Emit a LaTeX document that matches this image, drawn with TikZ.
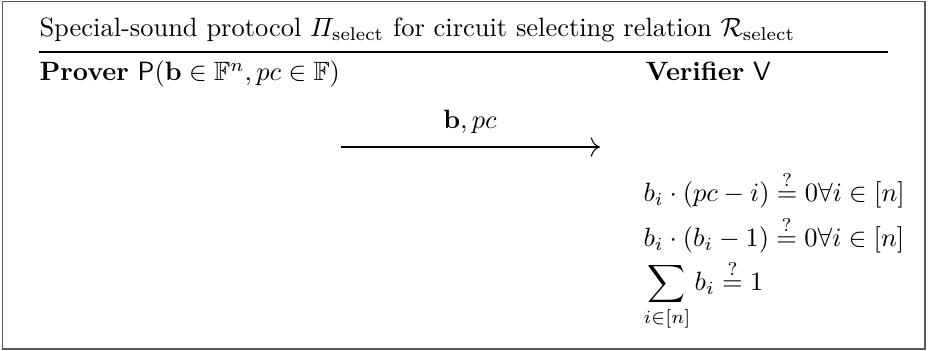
\documentclass[tikz,border=0pt]{standalone}
\usepackage{amsmath,amssymb}
\usetikzlibrary{arrows.meta}
\tikzset{
  lbl/.style={anchor=base west, inner sep=0pt},
  msg/.style={-{To[length=3.5pt]}, line width=0.4pt},
}
\begin{document}
\begin{tikzpicture}[x=0.378pt,y=-0.378pt]
\useasboundingbox (0,0) rectangle (934,351);
\draw[line width=0.6pt, black!65] (2.5,1.5) rectangle (925,349);
\node[lbl] (title) at (39,37) {Special-sound protocol $\varPi_{\mathrm{select}}$ for circuit selecting relation $\mathcal{R}_{\mathrm{select}}$};
\draw[line width=0.45pt] (39,52) -- (888,52);
\node[lbl] (prover) at (39,81) {\textbf{Prover} $\mathsf{P}(\mathbf{b}\in\mathbb{F}^n, pc\in\mathbb{F})$};
\node[lbl] (verifier) at (645,81) {\textbf{Verifier} $\mathsf{V}$};
\coordinate (a1) at (341,147);
\coordinate (a2) at (600,147);
\draw[msg] (a1) -- (a2);
\node[anchor=base, inner sep=0pt] (m) at (470,129) {$\mathbf{b}, pc$};
\node[lbl] (e1) at (643,202) {$b_i\cdot(pc-i)\stackrel{?}{=}0\forall i\in[n]$};
\node[lbl] (e2) at (643,247) {$b_i\cdot(b_i-1)\stackrel{?}{=}0\forall i\in[n]$};
\node[lbl] (e3) at (643,291) {$\displaystyle\sum_{i\in[n]} b_i\stackrel{?}{=}1$};
\end{tikzpicture}
\end{document}
